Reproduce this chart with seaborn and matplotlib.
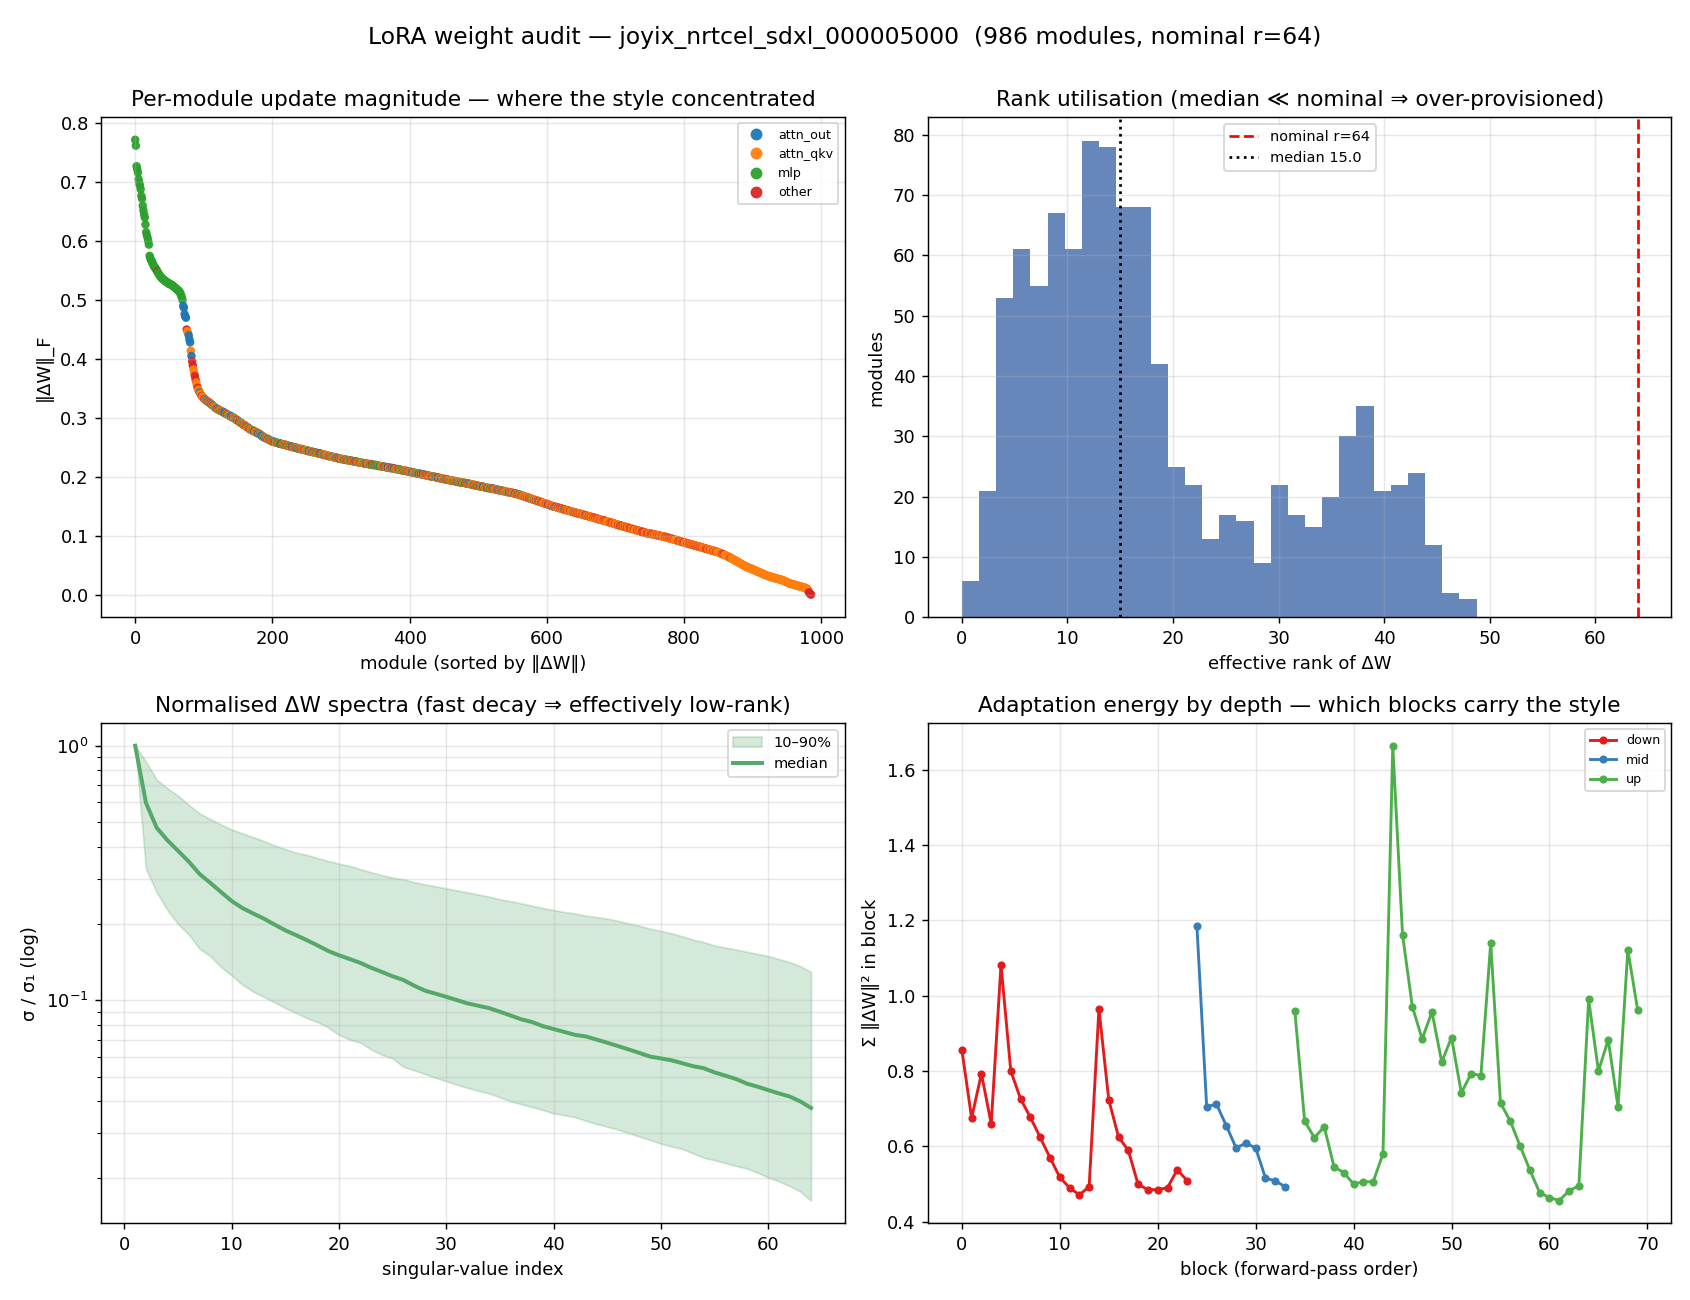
import numpy as np
import pandas as pd
import matplotlib
matplotlib.use("Agg")
import matplotlib.pyplot as plt
import seaborn as sns

# ---------------- data ----------------
TITLE = "LoRA weight audit — joyix_nrtcel_sdxl_000005000  (986 modules, nominal r=64)"

# Per-module ||dW||_F, sorted descending (thousandths)
MAG_MILLI = [
    772, 762, 727, 722, 716, 705, 698, 694, 688, 677, 672, 660, 652, 645, 640, 628, 615, 610, 606, 600, 594, 575, 571,
    568, 566, 563, 561, 558, 556, 555, 553, 551, 549, 547, 545, 543, 541, 540, 538, 537, 536, 535, 534, 533, 532, 531, 530, 530, 529, 528,
    527, 527, 526, 526, 525, 524, 523, 522, 521, 520, 519, 518, 517, 516, 515, 513, 511, 508, 504, 500,
    490, 487, 476, 472, 470, 450, 447, 444, 440, 433, 428, 414, 405, 396, 389, 382, 376, 371, 365, 360, 355, 351, 348, 345, 343, 341, 339, 337, 336, 335,
    333, 332, 331, 330, 329, 328, 327, 327, 326, 325, 324, 323, 322, 321, 320, 319, 318, 317, 316, 315,
    315, 314, 314, 313, 312, 312, 311, 311, 310, 309, 309, 308, 307, 307, 306, 305, 305, 304, 303, 303, 302, 302, 301, 300, 300,
    299, 298, 297, 296, 296, 295, 294, 293, 292, 292, 291, 290, 289, 288, 288, 287, 286, 285, 284, 284, 283, 282, 281, 280,
    280, 279, 279, 278, 277, 277, 276, 276, 275, 274, 274, 273, 273, 272, 271, 270, 269, 268, 268, 267, 266, 266, 265, 265, 264, 263, 263, 262, 262, 261, 260,
    260, 260, 259, 259, 259, 258, 258, 258, 257, 257, 257, 256, 256, 256, 255, 255, 255, 255, 254, 254, 254, 253, 253, 253, 252, 252, 252, 251, 251, 251, 250, 250, 250,
    250, 249, 249, 249, 248, 248, 248, 247, 247, 247, 247, 246, 246, 246, 245, 245, 245, 245, 244, 244, 244, 243, 243, 243, 243, 242, 242, 242, 241, 241, 241, 241, 240, 240, 240, 240,
    239, 239, 239, 238, 238, 238, 237, 237, 237, 237, 236, 236, 236, 235, 235, 235, 235, 234, 234, 234, 233, 233, 233, 233, 232, 232, 232, 231, 231, 231, 231, 230, 230, 230, 230,
    230, 229, 229, 229, 229, 228, 228, 228, 228, 228, 227, 227, 227, 227, 226, 226, 226, 226, 226, 225, 225, 225, 225, 224, 224, 224, 224, 224, 223, 223, 223, 223, 222, 222, 222, 222, 222, 221, 221, 221, 221, 221, 220, 220, 220, 220, 220, 220,
    219, 219, 219, 219, 218, 218, 218, 218, 218, 217, 217, 217, 217, 216, 216, 216, 216, 216, 215, 215, 215, 215, 215, 214, 214, 214, 214, 213, 213, 213, 213, 213, 212, 212, 212, 212, 211, 211, 211, 211, 211, 210, 210, 210,
    210, 209, 209, 209, 209, 208, 208, 208, 208, 207, 207, 207, 207, 206, 206, 206, 206, 205, 205, 205, 205, 204, 204, 204, 204, 203, 203, 203, 203, 202, 202, 202, 202, 201, 201, 201, 201, 200, 200, 200, 200, 200,
    199, 199, 199, 199, 198, 198, 198, 198, 197, 197, 197, 197, 196, 196, 196, 196, 195, 195, 195, 195, 194, 194, 194, 194, 193, 193, 193, 193, 193, 192, 192, 192, 192, 191, 191, 191, 191, 190, 190, 190, 190, 190, 190,
    189, 189, 189, 189, 188, 188, 188, 188, 187, 187, 187, 187, 186, 186, 186, 186, 185, 185, 185, 185, 184, 184, 184, 184, 183, 183, 183, 183, 182, 182, 182, 182, 181, 181, 181, 181, 180, 180, 180, 180, 180, 180,
    179, 179, 179, 178, 178, 178, 178, 177, 177, 177, 177, 176, 176, 176, 176, 175, 175, 175, 175, 174, 174, 174, 174, 174, 173, 173, 173, 173, 172, 172, 172, 172, 171, 171, 171, 170, 170, 170,
    169, 169, 168, 168, 168, 167, 167, 166, 166, 166, 165, 165, 164, 164, 164, 163, 163, 162, 162, 162, 161, 161, 160, 160, 160, 159, 159, 158, 158, 158, 157, 157, 156, 156, 156, 155, 155, 154, 154, 154, 153, 153, 152, 152, 152, 151, 151, 150, 150, 150,
    149, 149, 149, 148, 148, 148, 147, 147, 147, 146, 146, 146, 145, 145, 145, 144, 144, 144, 143, 143, 143, 142, 142, 142, 141, 141, 141, 140, 140, 140, 139, 139, 139, 138, 138, 138, 137, 137, 137, 137,
    136, 136, 136, 135, 135, 135, 134, 134, 134, 133, 133, 133, 132, 132, 132, 131, 131, 131, 130, 130, 130, 129, 129, 129, 128, 128, 128, 127, 127, 127, 126, 126, 126, 125, 125, 125, 124, 124, 124, 123, 123, 123, 122, 122, 122, 121, 121, 121, 120, 120,
    119, 119, 119, 118, 118, 118, 117, 117, 117, 116, 116, 116, 115, 115, 115, 114, 114, 114, 113, 113, 113, 112, 112, 112, 111, 111, 111, 110, 110, 110, 109, 109, 109, 108, 108, 108, 107, 107, 107, 106, 106, 106, 105, 105, 105, 104, 104, 104, 104, 104,
    103, 103, 103, 103, 102, 102, 102, 102, 101, 101, 101, 101, 100, 100, 100, 100, 99, 99, 99, 99, 98, 98, 98, 97, 97, 97, 96, 96, 96, 95, 95, 95, 94, 94, 94, 93, 93, 93, 92, 92, 92, 91, 91, 91, 90, 90, 90, 89, 89, 89,
    88, 88, 88, 87, 87, 87, 86, 86, 86, 85, 85, 85, 84, 84, 84, 83, 83, 83, 82, 82, 82, 81, 81, 81, 80, 80, 80, 79, 79, 79, 78, 78, 78, 77, 77, 77, 76, 76, 76, 75, 75, 75, 74, 74, 74, 73, 73, 73, 72, 72,
    71, 71, 70, 70, 69, 69, 68, 68, 67, 67, 66, 66, 65, 65, 64, 64, 63, 62, 62, 61, 60, 60, 59, 58, 58, 57, 56, 56, 55, 54, 54, 53, 52, 52, 51, 50, 50, 49, 48, 48, 47, 47, 46, 46, 45, 45, 44, 44, 44, 43,
    42, 42, 41, 41, 40, 40, 39, 39, 38, 38, 37, 37, 36, 36, 35, 35, 34, 34, 33, 33, 32, 32, 31, 31, 31, 30, 30, 30, 29, 29, 29, 28, 28, 28, 27, 27, 27, 26, 26, 26, 25, 25, 25, 24, 24, 23, 23, 22, 22, 21,
    20, 20, 19, 19, 19, 18, 18, 18, 17, 17, 17, 16, 16, 16, 15, 15, 15, 14, 14, 14, 13, 13, 13, 12, 12, 12, 11, 11, 10, 9, 7, 4, 2, 1, 0,
]

# module type per sorted module: o=attn_out, q=attn_qkv, m=mlp, x=other (blocks of 10)
CAT_BLOCKS = """
mmmmmmmmmm mmmmmmmmmm mmmmmmmmmm mmxmmmmmmm mmmmmmmmmm
mmmmmmmmmm mmmmmmmmmm oooooxqqoo oqoxxqqxxq qxqqoqqxqq
qxqoqmqxqo qoqxqmqqoq xqoqmqxqoq oooqxqmqqo ooqxqmqoqx
qmxqoqmqxq oqxqmqoqxq qmqoxqqmqo xqoqoooqmx qoqxqmqoqx
qmqxoqmmqx qomxmqoqxq mqxqoqmqox qoqmqxqomq xqoqmqxqoq
qmqoxqmqoq xqmqoqmqxq oxqmqoqxqm qqoqxqmqoq qmqoqxqmoq
xqqmqoqxqo qoqmqxqmqx qoxqoqmqxq mqqoqmqoxq qmqoqxmmqo
mmqmoqmmoq qmqxoqmqox qqoqxmqoxq mqqxqoqmqm qoqxqmqoqx
qqmqoxqmqo qmqoxqmoqx oqmqxqoqxq qmqxqoqmqo qxoqmqxqoq
qxqmoqxqmq oqqxqmqoqx qoqmqxqoqm qxmqoqxqoq mqqoqxqmqx
qxqoqmqxoq qmqoxqqmoq qxoqmqqxqo qxqmqoqxqq oqqmqxqoqx
qqoqxqmqxq oqqxqmqqoq qxqqoqxqmq qoqqxqqoqx qqxqoqqqqx
qqxoqqxqxq qoqxqqoqqx qqxqqoqxqq xqqqxqqqqo qqxqqxqqxq
qqxqqqxqoq qxqqxqqqxq qxqqxqqqxq qqqxqqxqqq qqqxqxqqqx
qqqqxqqxqx qoqqxqqxqq qxqxqqqxqq qqxqqxqqqx xqxqqqxqxq
qqxqxqqxqq qxqqxqqqxq qqqxqqxqqx qqxqqxqqqq qqxqxqqqxq
xqqqqxqqxq qxqqxqqxqq xqqxqqxqqq qqxqxqqqxq qqqxqqqxqq
qqqqqqxqxq qqqqqqqqxq qqqqqqqqqq qqqqqqqqqq qqqqqqqqqq
qqqqqqqqqq qqqqqqqqqq qqqqqqqqqq qqqqqqqqqq qqqqqqqqqq
qqqqqqqqqq qqqqqqqqqq qqqqqqqqqq qqxxxx
"""
CAT_NAMES = {"o": "attn_out", "q": "attn_qkv", "m": "mlp", "x": "other"}
CAT_ORDER = ["attn_out", "attn_qkv", "mlp", "other"]
CAT_COLORS = ["#1f77b4", "#ff7f0e", "#2ca02c", "#d62728"]

# effective-rank histogram
RANK_BIN_LO, RANK_BIN_HI, RANK_NBINS = 0.0, 48.75, 30
RANK_COUNTS = [6, 21, 53, 61, 55, 67, 61, 79, 78, 68, 68, 42, 25, 22, 13,
               17, 16, 9, 22, 17, 15, 20, 30, 35, 21, 22, 24, 12, 4, 3]
RANK_MEDIAN = 15.0
NOMINAL_R = 64

# normalised spectra
SPEC_MEDIAN = [1.000, 0.597, 0.476, 0.425, 0.386, 0.350, 0.313, 0.289, 0.266, 0.245,
               0.230, 0.219, 0.209, 0.198, 0.188, 0.180, 0.172, 0.164, 0.156, 0.150,
               0.145, 0.140, 0.134, 0.129, 0.124, 0.120, 0.114, 0.109, 0.106, 0.103,
               0.100, 0.097, 0.095, 0.093, 0.090, 0.087, 0.084, 0.082, 0.079, 0.077,
               0.075, 0.073, 0.072, 0.070, 0.068, 0.066, 0.064, 0.062, 0.060, 0.059,
               0.058, 0.0565, 0.055, 0.054, 0.052, 0.0505, 0.049, 0.047, 0.0457, 0.0443,
               0.043, 0.0418, 0.040, 0.0377]
SPEC_P90 = [1.000, 0.865, 0.736, 0.680, 0.636, 0.585, 0.542, 0.515, 0.490, 0.468,
            0.452, 0.437, 0.422, 0.405, 0.392, 0.380, 0.372, 0.362, 0.352, 0.344,
            0.337, 0.327, 0.318, 0.310, 0.303, 0.298, 0.291, 0.285, 0.280, 0.275,
            0.270, 0.265, 0.260, 0.255, 0.249, 0.245, 0.240, 0.235, 0.230, 0.226,
            0.222, 0.219, 0.215, 0.212, 0.209, 0.205, 0.200, 0.196, 0.191, 0.187,
            0.183, 0.178, 0.173, 0.169, 0.164, 0.161, 0.158, 0.155, 0.152, 0.149,
            0.145, 0.141, 0.136, 0.129]
SPEC_P10 = [1.000, 0.328, 0.266, 0.226, 0.199, 0.181, 0.159, 0.149, 0.135, 0.125,
            0.115, 0.108, 0.103, 0.098, 0.093, 0.089, 0.085, 0.082, 0.078, 0.073,
            0.070, 0.068, 0.064, 0.061, 0.059, 0.0547, 0.053, 0.0513, 0.0495, 0.048,
            0.0465, 0.0452, 0.044, 0.043, 0.0415, 0.040, 0.039, 0.038, 0.037, 0.0359,
            0.0353, 0.0347, 0.0336, 0.0326, 0.0318, 0.031, 0.030, 0.0291, 0.0282, 0.0273,
            0.0266, 0.026, 0.025, 0.024, 0.0235, 0.0229, 0.0223, 0.0218, 0.021, 0.0201,
            0.0194, 0.0186, 0.0177, 0.0163]

# adaptation energy per block
DOWN_ENERGY = [0.857, 0.675, 0.793, 0.660, 1.082, 0.800, 0.726, 0.677, 0.624, 0.570,
               0.518, 0.490, 0.471, 0.493, 0.965, 0.724, 0.625, 0.589, 0.499, 0.485,
               0.485, 0.490, 0.538, 0.509]
MID_ENERGY = [1.186, 0.705, 0.712, 0.655, 0.596, 0.608, 0.596, 0.516, 0.508, 0.493]
UP_ENERGY = [0.960, 0.667, 0.623, 0.652, 0.546, 0.530, 0.500, 0.506, 0.506, 0.580,
             1.664, 1.161, 0.971, 0.885, 0.957, 0.824, 0.889, 0.742, 0.793, 0.788,
             1.140, 0.715, 0.667, 0.601, 0.537, 0.477, 0.464, 0.456, 0.482, 0.495,
             0.990, 0.800, 0.883, 0.705, 1.122, 0.963]
STAGE_COLORS = {"down": "#e41a1c", "mid": "#377eb8", "up": "#4daf4a"}

# ---------------- build ----------------
blocks = CAT_BLOCKS.split()
for i, b in enumerate(blocks[:-1]):
    if len(b) != 10:
        raise ValueError(f"block {i} has len {len(b)}: {b}")
codes = "".join(blocks)
mag = np.array(MAG_MILLI) / 1000.0
if len(codes) != len(mag):
    raise ValueError(f"codes {len(codes)} vs mag {len(mag)}")
df_mag = pd.DataFrame({"idx": np.arange(len(mag)), "mag": mag,
                       "kind": [CAT_NAMES[c] for c in codes]})

fig, axes = plt.subplots(2, 2, figsize=(13, 10), dpi=130)
fig.subplots_adjust(left=0.060, right=0.989, top=0.910, bottom=0.059,
                    wspace=0.112, hspace=0.211)
fig.suptitle(TITLE, fontsize=13)

# --- top-left scatter
ax = axes[0, 0]
sns.scatterplot(data=df_mag, x="idx", y="mag", hue="kind", hue_order=CAT_ORDER,
                palette=CAT_COLORS, s=22, linewidth=0, alpha=0.95, ax=ax)
sns.move_legend(ax, "upper right", title=None, fontsize=7, markerscale=1.4,
                handletextpad=0.8)
ax.set_title("Per-module update magnitude — where the style concentrated", fontsize=12)
ax.set_xlabel("module (sorted by ‖ΔW‖)")
ax.set_ylabel("‖ΔW‖_F")
ax.grid(alpha=0.3)

# --- top-right histogram
ax = axes[0, 1]
bin_w = (RANK_BIN_HI - RANK_BIN_LO) / RANK_NBINS
df_rank = pd.DataFrame({"rank": RANK_BIN_LO + bin_w * (np.arange(RANK_NBINS) + 0.5),
                        "count": RANK_COUNTS})
sns.histplot(data=df_rank, x="rank", weights="count", bins=RANK_NBINS,
             binrange=(RANK_BIN_LO, RANK_BIN_HI), color="#4c72b0",
             alpha=0.85, edgecolor="none", linewidth=0, ax=ax)
ax.axvline(NOMINAL_R, color="red", ls="--", lw=1.5, label=f"nominal r={NOMINAL_R}")
ax.axvline(RANK_MEDIAN, color="black", ls=":", lw=1.5, label=f"median {RANK_MEDIAN:.1f}")
ax.legend(loc="upper center", fontsize=8)
ax.set_title("Rank utilisation (median ≪ nominal ⇒ over-provisioned)", fontsize=12)
ax.set_xlabel("effective rank of ΔW")
ax.set_ylabel("modules")
ax.grid(alpha=0.3)

# --- bottom-left spectra
ax = axes[1, 0]
k = np.arange(1, len(SPEC_MEDIAN) + 1)
ax.fill_between(k, SPEC_P10, SPEC_P90, color="#55a868", alpha=0.25, label="10–90%")
sns.lineplot(x=k, y=SPEC_MEDIAN, color="#55a868", lw=2.2, label="median", ax=ax)
ax.set_yscale("log")
ax.legend(loc="upper right", fontsize=8)
ax.set_title("Normalised ΔW spectra (fast decay ⇒ effectively low-rank)", fontsize=12)
ax.set_xlabel("singular-value index")
ax.set_ylabel("σ / σ₁ (log)")
ax.grid(alpha=0.3, which="both")

# --- bottom-right energy
ax = axes[1, 1]
stages = (["down"] * len(DOWN_ENERGY) + ["mid"] * len(MID_ENERGY)
          + ["up"] * len(UP_ENERGY))
energy = DOWN_ENERGY + MID_ENERGY + UP_ENERGY
df_e = pd.DataFrame({"block": np.arange(len(energy)), "energy": energy, "stage": stages})
for st in ["down", "mid", "up"]:
    sub = df_e[df_e.stage == st]
    sns.lineplot(data=sub, x="block", y="energy", color=STAGE_COLORS[st], marker="o",
                 markersize=4.5, markeredgewidth=0, lw=1.6, ax=ax, legend=False)
ax.legend(handles=ax.lines[:3], labels=["down", "mid", "up"], loc="upper right", fontsize=7)
ax.set_title("Adaptation energy by depth — which blocks carry the style", fontsize=12)
ax.set_xlabel("block (forward-pass order)")
ax.set_ylabel("Σ ‖ΔW‖² in block")
ax.grid(alpha=0.3)

fig.savefig("out.png", dpi=130)
